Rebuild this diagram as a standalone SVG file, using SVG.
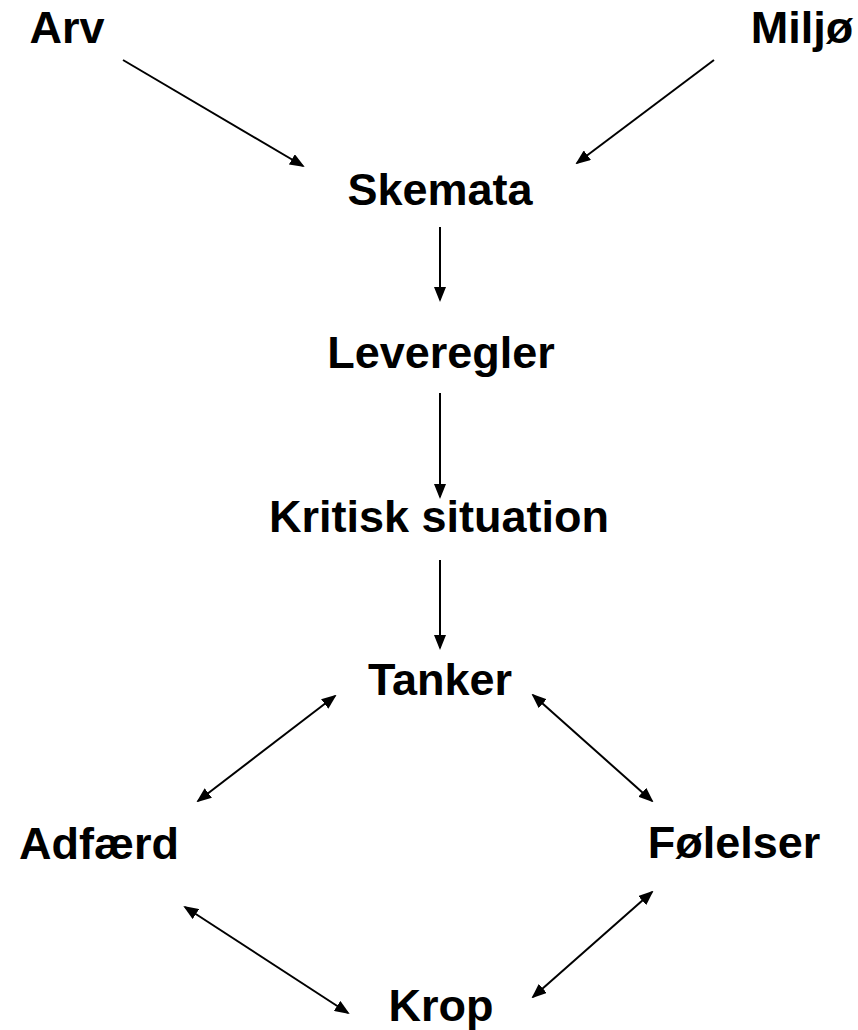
<svg xmlns="http://www.w3.org/2000/svg" width="858" height="1030" viewBox="0 0 858 1030">
<style>
.t{font-family:"Liberation Sans",Arial,sans-serif;font-weight:bold;font-size:45px;fill:#000;text-anchor:middle}
.c line{stroke:#000;stroke-width:2}
</style>
<defs>
<marker id="ah" viewBox="0 0 15 12" refX="13" refY="6" markerWidth="15" markerHeight="12" markerUnits="userSpaceOnUse" orient="auto-start-reverse">
<path d="M0,0 L15,6 L0,12 z" fill="#000"/>
</marker>
</defs>
<rect width="858" height="1030" fill="#fff"/>
<g class="c" id="connectors">
<line x1="123" y1="60" x2="303" y2="166" marker-end="url(#ah)"/>
<line x1="714" y1="60" x2="577" y2="163" marker-end="url(#ah)"/>
<line x1="440" y1="227" x2="440" y2="300" marker-end="url(#ah)"/>
<line x1="440" y1="393" x2="440" y2="497" marker-end="url(#ah)"/>
<line x1="440" y1="560" x2="440" y2="648" marker-end="url(#ah)"/>
<line x1="335" y1="696" x2="198" y2="801" marker-start="url(#ah)" marker-end="url(#ah)"/>
<line x1="533" y1="695" x2="652" y2="801" marker-start="url(#ah)" marker-end="url(#ah)"/>
<line x1="185" y1="907" x2="348" y2="1013" marker-start="url(#ah)" marker-end="url(#ah)"/>
<line x1="652" y1="892" x2="533" y2="997" marker-start="url(#ah)" marker-end="url(#ah)"/>
</g>
<g id="arv"><text class="t" x="67" y="43">Arv</text></g>
<g id="miljo"><text class="t" x="802" y="43">Miljø</text></g>
<g id="skemata"><text class="t" x="440" y="205">Skemata</text></g>
<g id="leveregler"><text class="t" x="441" y="368">Leveregler</text></g>
<g id="kritisk"><text class="t" x="439" y="532">Kritisk situation</text></g>
<g id="tanker"><text class="t" x="440" y="695">Tanker</text></g>
<g id="adfaerd"><text class="t" x="99" y="859">Adfærd</text></g>
<g id="folelser"><text class="t" x="734" y="858">Følelser</text></g>
<g id="krop"><text class="t" x="441" y="1021">Krop</text></g>
</svg>
